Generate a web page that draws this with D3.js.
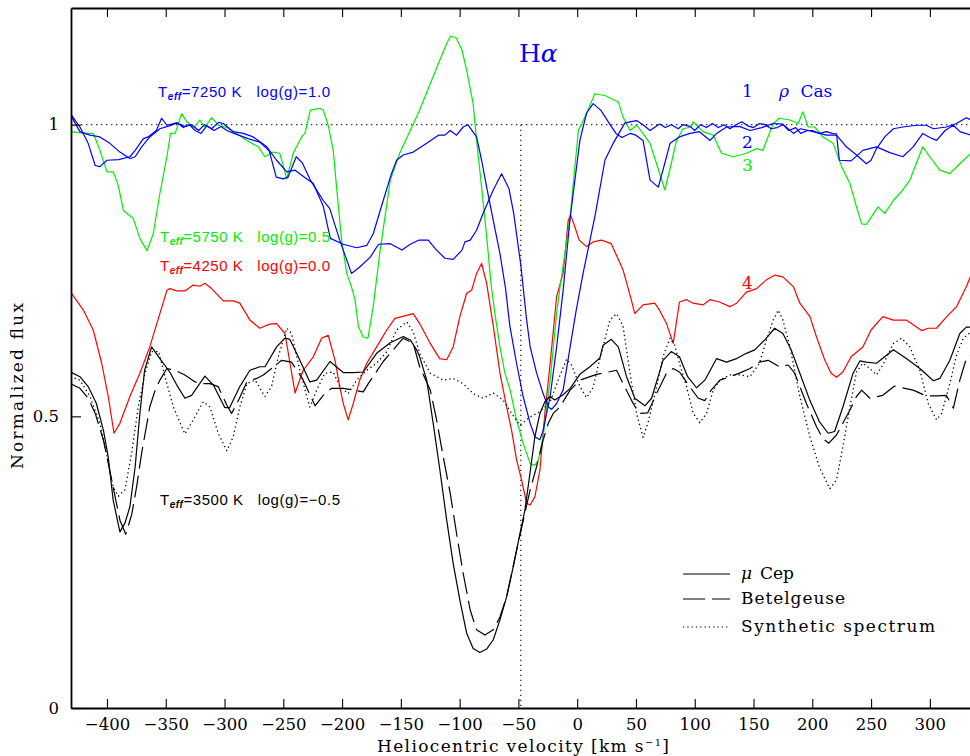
<!DOCTYPE html>
<html>
<head>
<meta charset="utf-8">
<script src="https://cdn.jsdelivr.net/npm/d3@7"></script>
<style>
  body { margin: 0; background: #fff; }
  text { font-family: "DejaVu Serif", serif; }
</style>
</head>
<body>
<script>
// ---- data: [heliocentric velocity (km/s), normalized flux] ----
var rhoCas1 = [[-430,1.013],[-423,0.988],[-414.5,0.982],[-406,0.979],[-397.5,0.968],[-389,0.953],[-380.5,0.942],[-376,0.945],[-370.5,0.962],[-363.6,0.979],[-355,0.993],[-347,0.998],[-340,1.003],[-335,0.995],[-330,1.0],[-325,0.99],[-320,0.985],[-315,0.998],[-309,0.99],[-303,0.997],[-298,0.99],[-292,0.985],[-280,0.976],[-270,0.97],[-262,0.955],[-256,0.91],[-250,0.907],[-246,0.91],[-239,0.945],[-234,0.935],[-227,0.905],[-216,0.87],[-210.5,0.856],[-202,0.802],[-192,0.745],[-185,0.756],[-176,0.773],[-169,0.795],[-159,0.796],[-149,0.785],[-142,0.795],[-135,0.802],[-126.7,0.802],[-119.6,0.785],[-112.5,0.771],[-105.5,0.769],[-98,0.785],[-95.5,0.799],[-91,0.802],[-85.6,0.819],[-80,0.848],[-71.4,0.888],[-64.3,0.916],[-58,0.89],[-54,0.848],[-48,0.76],[-43,0.665],[-40,0.619],[-34.5,0.574],[-29,0.539],[-24.6,0.516],[-21.8,0.512],[-17.5,0.522],[-12,0.545],[-6,0.619],[-1,0.68],[5,0.745],[15,0.842],[23.6,0.939],[30.6,0.968],[40.6,1.003],[50.5,1.007],[56,1.0],[62,0.99],[70,1.001],[75,0.995],[80,1.0],[86,0.993],[90,1.0],[96,0.997],[100,0.99],[105,1.0],[110,0.995],[115,1.002],[120,0.995],[125,1.0],[130,0.993],[135,1.0],[140,1.005],[145,0.998],[150,0.995],[155,1.002],[160,1.0],[165,0.993],[170,0.995],[175,1.0],[180,0.99],[186,0.995],[190,0.985],[196,0.99],[200,0.99],[206,0.985],[212,0.988],[217,0.985],[220.6,0.984],[223,0.939],[233,0.938],[243,0.956],[254.6,0.962],[266,0.952],[277,0.945],[285.8,0.962],[294,0.985],[300,0.978],[305.7,0.973],[313,0.99],[320,0.999],[325.5,0.988],[335,0.982]];

var rhoCas2 = [[-430,1.016],[-423,0.996],[-416,0.968],[-410,0.93],[-406,0.928],[-400,0.939],[-390,0.94],[-380.5,0.945],[-376,0.956],[-369,0.976],[-365,0.979],[-358,0.99],[-353.5,1.011],[-349,0.999],[-341,1.003],[-334,0.997],[-328,1.0],[-322,0.99],[-317,1.0],[-311,0.993],[-305,1.004],[-301,1.002],[-292.6,0.988],[-284,0.985],[-275.6,0.979],[-264,0.962],[-255.7,0.939],[-247,0.919],[-240,0.922],[-232,0.91],[-224.5,0.899],[-216,0.86],[-210,0.805],[-199,0.795],[-187.6,0.789],[-179,0.793],[-173.5,0.813],[-165,0.87],[-158,0.916],[-153.6,0.939],[-148,0.948],[-139.5,0.953],[-128,0.968],[-118,0.982],[-112.5,0.982],[-108,0.99],[-102.6,0.982],[-97,0.996],[-93,1.0],[-85.6,0.979],[-81.3,0.939],[-77,0.893],[-71.4,0.836],[-65.7,0.779],[-61,0.72],[-57.3,0.655],[-51.6,0.591],[-46,0.534],[-40,0.488],[-36,0.465],[-31.7,0.46],[-29,0.476],[-23,0.534],[-17.5,0.619],[-12,0.715],[-6,0.84],[2.3,0.973],[8,1.02],[13.6,1.036],[20,1.025],[28,1.0],[33,0.985],[38,0.978],[45,0.985],[50,0.982],[56,0.973],[62,0.905],[69,0.893],[74,0.93],[79,0.968],[87,0.979],[96,0.985],[104,0.988],[113,0.973],[118.6,0.985],[127,0.996],[138,0.997],[147,0.99],[157,0.995],[166.7,1.002],[175,1.001],[184,0.985],[190,0.993],[200.7,0.988],[212,0.982],[220.6,0.982],[229,0.962],[237.6,0.948],[246,0.933],[250,0.939],[254.6,0.959],[262,0.98],[269,0.993],[277,0.996],[288.7,0.999],[297,0.999],[303,0.993],[314,0.996],[322.7,1.002],[331,1.012],[335,1.008]];

var rhoCas3 = [[-430,0.988],[-420,0.985],[-411.6,0.985],[-406,0.956],[-400,0.919],[-394.6,0.919],[-390.4,0.896],[-386,0.853],[-377.6,0.839],[-372,0.805],[-366,0.784],[-360.6,0.813],[-355,0.882],[-349,0.945],[-346,0.985],[-342,0.985],[-336.5,1.019],[-332,1.005],[-326,0.995],[-321,1.008],[-316.7,0.996],[-311,1.012],[-305,0.999],[-298,0.995],[-289.7,0.985],[-281,0.973],[-271.3,0.962],[-265.6,0.945],[-258.6,0.953],[-253,0.951],[-247,0.907],[-241.6,0.951],[-234.4,0.979],[-231.6,0.985],[-227,1.025],[-219,1.028],[-216,1.025],[-211.8,0.999],[-207.5,0.956],[-204.7,0.893],[-200.4,0.802],[-196,0.745],[-192,0.722],[-189,0.70],[-186,0.653],[-182,0.636],[-178,0.634],[-173.5,0.688],[-168,0.779],[-159,0.905],[-151,0.951],[-142,0.99],[-134,1.025],[-125,1.07],[-117,1.11],[-111,1.139],[-107.7,1.152],[-103,1.149],[-98,1.128],[-94,1.093],[-88.5,1.036],[-85.6,0.973],[-81.3,0.893],[-77,0.808],[-73,0.722],[-70,0.676],[-65.7,0.619],[-61.5,0.574],[-57,0.545],[-51.6,0.494],[-46,0.454],[-40,0.419],[-36,0.416],[-33,0.425],[-29,0.465],[-23,0.562],[-17.5,0.676],[-14.7,0.72],[-6,0.842],[1,0.99],[8,1.019],[15,1.053],[23.6,1.05],[35,1.039],[39,1.013],[45,0.99],[50.5,0.999],[56,0.985],[62,0.968],[67.5,0.933],[74.6,0.888],[80,0.933],[84.5,0.973],[90,0.993],[97,0.996],[98.7,1.005],[107,0.988],[115.7,0.982],[122.8,0.951],[132.7,0.945],[144,0.951],[152.6,0.959],[158,0.956],[166.7,1.002],[172,1.011],[181,1.008],[188,1.002],[192,1.022],[196.5,0.996],[202,0.996],[209,0.979],[217.7,0.968],[225,0.928],[232,0.899],[237.6,0.859],[242,0.830],[246,0.829],[256,0.859],[261.7,0.848],[269,0.87],[277,0.888],[283,0.905],[294,0.962],[300,0.945],[308.5,0.922],[317,0.916],[325.5,0.933],[335,0.951]];

var rhoCas4 = [[-431,0.713],[-420,0.682],[-411.7,0.648],[-404.5,0.591],[-398.9,0.534],[-394,0.471],[-389,0.488],[-380.5,0.534],[-372,0.574],[-363.6,0.619],[-355,0.676],[-349,0.716],[-346.5,0.719],[-340.7,0.715],[-333.7,0.715],[-326.6,0.725],[-321,0.723],[-316.7,0.728],[-311,0.719],[-301,0.698],[-292.6,0.698],[-287,0.694],[-278.4,0.665],[-270,0.651],[-261.5,0.658],[-255.7,0.659],[-248.6,0.642],[-240,0.54],[-233,0.579],[-224.5,0.602],[-217.4,0.634],[-211.8,0.639],[-206,0.596],[-202,0.551],[-199,0.522],[-194.8,0.494],[-190.5,0.522],[-185,0.562],[-179,0.591],[-170.6,0.619],[-162,0.648],[-155,0.668],[-145,0.673],[-139.5,0.676],[-134,0.659],[-125,0.625],[-117,0.599],[-111,0.597],[-105.5,0.619],[-99.8,0.671],[-94,0.711],[-89.8,0.716],[-85.6,0.745],[-81.3,0.762],[-77,0.728],[-71.4,0.655],[-65.7,0.574],[-60,0.516],[-55.8,0.476],[-51.5,0.425],[-47.3,0.391],[-43,0.351],[-40,0.348],[-36,0.362],[-31.7,0.408],[-27.5,0.505],[-23,0.591],[-17.5,0.705],[-12,0.745],[-7.6,0.836],[-5.6,0.845],[-2,0.825],[1.7,0.802],[8,0.791],[13.6,0.799],[20.7,0.802],[29,0.796],[39,0.751],[46,0.70],[49,0.676],[56,0.691],[66,0.694],[70,0.682],[76,0.659],[81.7,0.625],[87,0.696],[93,0.700],[98.7,0.694],[107,0.691],[112.9,0.700],[121,0.696],[129.8,0.688],[135.6,0.694],[144,0.713],[152.6,0.719],[161,0.734],[168,0.742],[175,0.739],[184,0.722],[189.4,0.694],[198,0.671],[203.6,0.636],[210.7,0.596],[216,0.574],[220.6,0.567],[226,0.576],[233,0.602],[243,0.619],[250,0.648],[260,0.671],[269,0.665],[280,0.665],[293,0.647],[298.6,0.651],[305.7,0.651],[314,0.67],[322.7,0.688],[331,0.722],[335,0.742]];

var muCep = [[-431,0.576],[-423,0.568],[-416,0.551],[-409,0.522],[-403,0.476],[-399,0.431],[-394.7,0.356],[-389,0.302],[-384.7,0.317],[-380.5,0.345],[-376,0.414],[-372,0.505],[-368,0.579],[-362,0.619],[-355,0.599],[-346.6,0.576],[-340.7,0.554],[-333.7,0.531],[-328,0.536],[-316.7,0.569],[-309.6,0.554],[-299.8,0.515],[-295.6,0.515],[-287,0.551],[-278.4,0.579],[-270,0.585],[-265.6,0.585],[-255.7,0.619],[-248.6,0.634],[-244.5,0.632],[-237.3,0.602],[-227.4,0.559],[-221.6,0.562],[-210.3,0.594],[-199,0.575],[-190.5,0.575],[-182,0.576],[-170.6,0.608],[-159,0.626],[-148,0.637],[-142,0.631],[-136.6,0.614],[-134,0.602],[-128,0.562],[-122.5,0.488],[-116.8,0.408],[-111,0.322],[-105.5,0.248],[-99.8,0.185],[-94,0.128],[-88.5,0.102],[-82.8,0.095],[-77,0.101],[-71.4,0.117],[-65.7,0.151],[-60,0.191],[-54.4,0.242],[-48.7,0.299],[-44.5,0.339],[-40.2,0.402],[-36,0.465],[-31.7,0.505],[-27.5,0.525],[-23.2,0.534],[-19,0.528],[-12,0.537],[-6,0.548],[2.3,0.572],[10.8,0.585],[19.3,0.60],[22,0.622],[29,0.632],[35,0.619],[42,0.568],[49,0.531],[57.6,0.518],[63.3,0.531],[73,0.596],[80,0.611],[87,0.602],[94,0.568],[101.5,0.549],[108.6,0.562],[118.6,0.599],[127,0.593],[135.6,0.599],[144,0.608],[151,0.614],[159.6,0.631],[168,0.651],[175,0.642],[182,0.614],[189.4,0.574],[198,0.527],[206,0.491],[213.5,0.471],[219,0.474],[226,0.516],[234.7,0.574],[240.5,0.595],[246,0.593],[254.6,0.591],[269,0.614],[280,0.599],[291.5,0.582],[303,0.561],[308.5,0.565],[317,0.596],[325.5,0.642],[331,0.653],[335,0.653]];

var betelgeuse = [[-431,0.556],[-423,0.548],[-416,0.531],[-410,0.505],[-403,0.459],[-396,0.391],[-389,0.322],[-384,0.298],[-379,0.331],[-374.8,0.379],[-370.5,0.437],[-366,0.488],[-363.6,0.516],[-359,0.545],[-355,0.562],[-349,0.582],[-342,0.579],[-333.7,0.571],[-325,0.559],[-319.5,0.556],[-312.4,0.556],[-305.4,0.551],[-298,0.519],[-294,0.505],[-288,0.528],[-281,0.559],[-272.7,0.565],[-267,0.571],[-260,0.582],[-251.4,0.596],[-243,0.593],[-233,0.562],[-223,0.518],[-216,0.536],[-209,0.548],[-199,0.548],[-190,0.545],[-182,0.542],[-177.7,0.556],[-165,0.594],[-159,0.608],[-148,0.634],[-139.5,0.625],[-134,0.585],[-125,0.545],[-119.6,0.494],[-114,0.431],[-108,0.368],[-102.6,0.299],[-97,0.231],[-91,0.168],[-85.6,0.134],[-78.5,0.125],[-71.4,0.134],[-65.7,0.156],[-60,0.191],[-51.5,0.271],[-44.5,0.334],[-40,0.374],[-34.5,0.414],[-29,0.459],[-24.6,0.488],[-20.4,0.505],[-14.7,0.516],[-6,0.545],[2.3,0.562],[16.5,0.572],[22,0.574],[33.5,0.579],[39,0.556],[47.6,0.522],[53,0.505],[60,0.506],[67.5,0.539],[76,0.574],[81.7,0.582],[87,0.576],[95.6,0.551],[103,0.531],[108.6,0.527],[114,0.545],[121.4,0.562],[130,0.568],[138,0.574],[147,0.582],[155,0.593],[162.5,0.596],[172,0.585],[179.5,0.588],[185,0.574],[195,0.522],[203.6,0.482],[209,0.462],[214,0.454],[220.6,0.468],[226,0.488],[232,0.511],[237.6,0.534],[242,0.545],[249,0.531],[260,0.536],[270,0.552],[278.7,0.548],[285.8,0.545],[297,0.535],[305.7,0.535],[314,0.536],[320,0.514],[325.5,0.562],[331,0.599],[335,0.605]];

var synthetic = [[-431,0.568],[-423,0.562],[-414.5,0.534],[-406,0.488],[-400.4,0.437],[-394.7,0.379],[-390.4,0.363],[-384.7,0.374],[-379,0.437],[-373.4,0.516],[-367.6,0.574],[-362,0.611],[-356,0.611],[-350.6,0.568],[-343.6,0.516],[-333.7,0.47],[-326.6,0.494],[-318,0.525],[-312.4,0.516],[-305.4,0.471],[-298,0.441],[-292.6,0.465],[-287,0.516],[-281,0.556],[-274,0.562],[-265.6,0.534],[-260,0.551],[-254.3,0.602],[-247,0.651],[-243,0.642],[-235.9,0.579],[-230,0.534],[-227.4,0.516],[-221.6,0.545],[-214.6,0.574],[-207.5,0.576],[-201.8,0.551],[-194.8,0.539],[-187.6,0.562],[-179,0.579],[-170.6,0.591],[-162,0.611],[-153.6,0.648],[-145,0.662],[-139.5,0.645],[-134,0.608],[-125,0.574],[-114,0.562],[-105.5,0.565],[-97,0.556],[-88.5,0.539],[-80,0.531],[-71.4,0.540],[-63,0.528],[-55.8,0.505],[-48.7,0.485],[-40,0.499],[-31.7,0.508],[-23,0.525],[-14.7,0.57],[-9,0.598],[-4.8,0.588],[2.3,0.551],[8,0.532],[13.6,0.55],[19.3,0.599],[27.8,0.665],[33.5,0.676],[39,0.655],[45,0.573],[50.5,0.505],[56,0.464],[60.4,0.49],[67.5,0.55],[73,0.602],[79,0.634],[83,0.622],[87,0.591],[93,0.551],[98.7,0.505],[104.4,0.489],[110,0.505],[115.7,0.545],[121.4,0.562],[129.8,0.571],[138,0.571],[147,0.568],[155,0.591],[161,0.631],[166.7,0.665],[171,0.682],[175,0.665],[181,0.619],[189.4,0.534],[198,0.465],[206,0.413],[214.9,0.376],[220.6,0.391],[226,0.448],[232,0.516],[237.6,0.576],[243,0.591],[249,0.582],[254.6,0.571],[260,0.588],[269,0.625],[276,0.634],[283,0.619],[291.5,0.579],[298.6,0.522],[305.7,0.494],[310,0.505],[317,0.556],[322.7,0.605],[328.5,0.634],[335,0.645]];

var xMajor = d3.range(-400, 301, 50);
var xMinor = d3.range(-430, 336, 10);
var yMajor = [0, 0.5, 1];
var yMinor = d3.range(0, 1.21, 0.1);
var restVelocity = -48;   // vertical dotted marker
var legendNames = ["Cep", "Betelgeuse", "Synthetic spectrum"];

// ---- set up ----
var W = 970, H = 756;
var svg = d3.select("body").append("svg")
            .attr("width", W)
            .attr("height", H);

var x = d3.scaleLinear().domain([-430.6, 335]).range([71, 971]);
var y = d3.scaleLinear().domain([0, 1.2]).range([708, 8]);

svg.append("clipPath").attr("id", "plot")
   .append("rect")
   .attr("x", 71).attr("y", 8)
   .attr("width", 900).attr("height", 700);

// reference lines (continuum and marker)
svg.append("line")
   .attr("x1", x(-430.6)).attr("x2", x(335))
   .attr("y1", y(1)).attr("y2", y(1))
   .style("stroke", "#333").style("stroke-width", 1.4)
   .style("stroke-dasharray", "1.4,3.6");
svg.append("line")
   .attr("x1", x(restVelocity)).attr("x2", x(restVelocity))
   .attr("y1", y(1)).attr("y2", y(0))
   .style("stroke", "#333").style("stroke-width", 1.4)
   .style("stroke-dasharray", "1.4,3.6");

// ---- spectra ----
var line = d3.line()
             .x(function(d){ return x(d[0]); })
             .y(function(d){ return y(d[1]); });

var g = svg.append("g").attr("clip-path", "url(#plot)");

function spectrum(data, color, dash, width) {
  g.append("path")
   .datum(data)
   .attr("d", line)
   .style("fill", "none")
   .style("stroke", color)
   .style("stroke-width", width)
   .style("stroke-dasharray", dash)
   .style("stroke-linejoin", "round");
}

spectrum(rhoCas4, "#ff0000", null, 1.2);
spectrum(rhoCas3, "#00ee00", null, 1.2);
spectrum(rhoCas2, "#0000ff", null, 1.2);
spectrum(rhoCas1, "#0000ff", null, 1.2);
spectrum(synthetic, "#000", "1.3,3", 1.3);
spectrum(betelgeuse, "#000", "22,7", 1.2);
spectrum(muCep, "#000", null, 1.2);

// ---- axes ----
var bottomAxis = svg.append("g").attr("transform", "translate(0,708)");
bottomAxis.call(d3.axisBottom(x).tickValues(xMinor).tickSize(-4.5).tickFormat(""));
bottomAxis.call(d3.axisBottom(x).tickValues(xMajor).tickSizeInner(-9).tickSizeOuter(0)
              .tickPadding(10).tickFormat(d3.format("d")));

var topAxis = svg.append("g").attr("transform", "translate(0,8)");
topAxis.call(d3.axisBottom(x).tickValues(xMinor).tickSize(4.5).tickFormat(""));
topAxis.call(d3.axisBottom(x).tickValues(xMajor).tickSizeInner(9).tickSizeOuter(0).tickFormat(""));

var leftAxis = svg.append("g").attr("transform", "translate(71,0)");
leftAxis.call(d3.axisLeft(y).tickValues(yMinor).tickSize(-5).tickFormat(""));
leftAxis.call(d3.axisLeft(y).tickValues(yMajor).tickSizeInner(-10).tickSizeOuter(0)
            .tickPadding(12).tickFormat(function(d){ return String(d); }));

svg.selectAll(".domain").style("stroke", "#000").style("stroke-width", 1.8);
svg.selectAll(".tick line").style("stroke", "#000").style("stroke-width", 1.1);
svg.selectAll(".tick text")
   .style("font-family", "DejaVu Serif").style("font-size", "16.5px").style("fill", "#000");

// ---- axis titles ----
var xt = svg.append("text")
   .attr("x", 523).attr("y", 752)
   .attr("text-anchor", "middle")
   .attr("textLength", 292)
   .style("font-size", "17px");
xt.append("tspan").text("Heliocentric velocity [km s");
xt.append("tspan").text("\u22121").attr("dy", -6).style("font-size", "10px");
xt.append("tspan").text("]").attr("dy", 6);

svg.append("text")
   .attr("transform", "translate(23,386) rotate(-90)")
   .attr("text-anchor", "middle")
   .attr("textLength", 166)
   .style("font-size", "17px")
   .text("Normalized flux");

// ---- annotations ----
var ha = svg.append("text").attr("x", 519).attr("y", 62)
   .style("font-size", "25px").style("fill", "#0000ff");
ha.append("tspan").text("H");
ha.append("tspan").text("\u03b1").style("font-style", "italic");

function teff(xp, yp, color, temp, logg, len) {
  var t = svg.append("text").attr("x", xp).attr("y", yp)
             .attr("textLength", len)
             .style("font-family", "Liberation Sans, Arial, sans-serif")
             .style("font-size", "15px").style("fill", color)
             .style("white-space", "pre");
  t.append("tspan").text("T");
  t.append("tspan").text("eff").attr("dy", 3)
   .style("font-size", "10px").style("font-weight", "bold").style("font-style", "italic");
  t.append("tspan").text("=" + temp + " K   log(g)=" + logg).attr("dy", -3);
}
teff(158, 97, "#0000ff", "7250", "1.0", 172);
teff(160, 242, "#00ee00", "5750", "0.5", 170);
teff(160, 271, "#ff0000", "4250", "0.0", 170);
teff(160, 505, "#000", "3500", "\u22120.5", 180);

function tag(xp, yp, color, s) {
  svg.append("text").attr("x", xp).attr("y", yp)
     .style("font-size", "17px").style("fill", color).text(s);
}
tag(742, 97, "#0000ff", "1");
tag(742, 148, "#0000ff", "2");
tag(742, 171, "#00ee00", "3");
tag(742, 289, "#ff0000", "4");
var rc = svg.append("text").attr("x", 779).attr("y", 97)
   .style("font-size", "17px").style("fill", "#0000ff")
   .style("white-space", "pre");
rc.append("tspan").text("\u03c1").style("font-style", "italic");
rc.append("tspan").text(" Cas").attr("x", 795);

// ---- legend ----
var legDash = [null, "22,7", "1.3,3"];
var legY = [574, 599, 627];
var legLen = [null, 104, 194];
legendNames.forEach(function(name, i) {
  svg.append("line")
     .attr("x1", 683).attr("x2", 730)
     .attr("y1", legY[i]).attr("y2", legY[i])
     .style("stroke", "#000").style("stroke-width", 1.2)
     .style("stroke-dasharray", legDash[i]);
  var t = svg.append("text")
     .attr("x", 741).attr("y", legY[i] + 5)
     .style("font-size", "17px");
  if (legLen[i]) t.attr("textLength", legLen[i]);
  if (i === 0) {
    t.append("tspan").text("\u03bc").style("font-style", "italic");
    t.append("tspan").text(name).attr("x", 760);
  } else {
    t.text(name);
  }
});
</script>
</body>
</html>
